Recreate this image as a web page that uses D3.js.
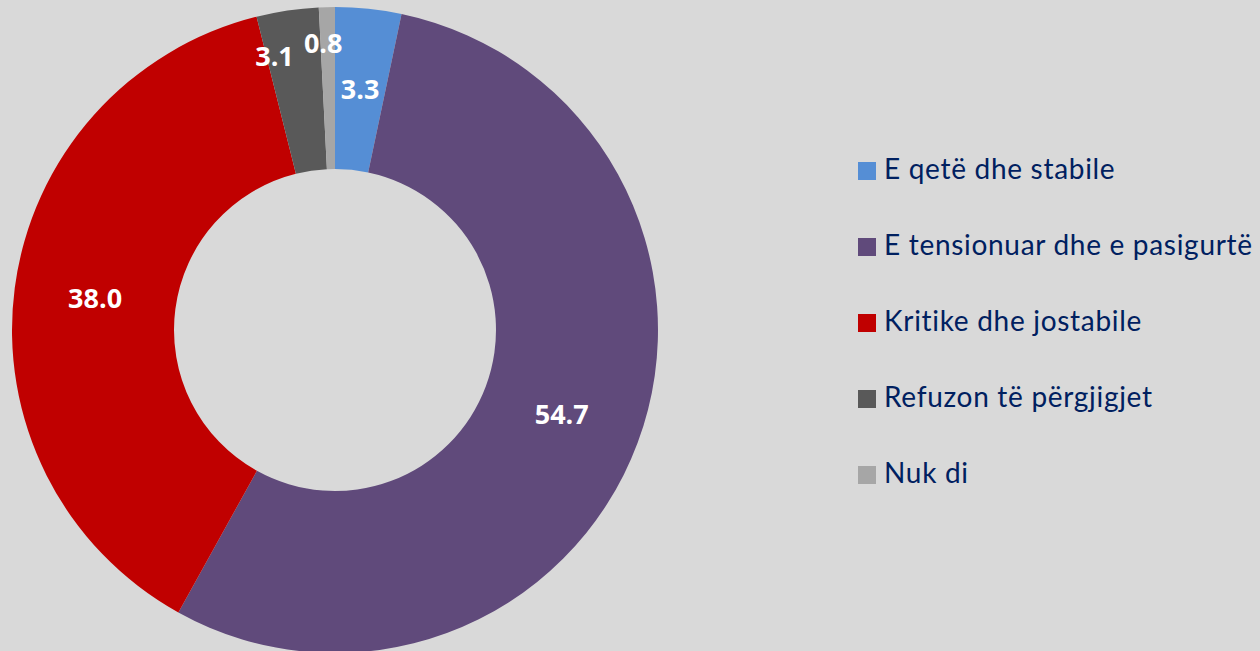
<!DOCTYPE html>
<html>
<head>
<meta charset="utf-8">
<script src="https://cdn.jsdelivr.net/npm/d3@7"></script>
<style>
html,body{margin:0;padding:0;background:#d9d9d9;}
svg{display:block;}
</style>
</head>
<body>
<svg id="chart" width="1260" height="651"></svg>
<script>
const categories = ["E qetë dhe stabile", "E tensionuar dhe e pasigurtë", "Kritike dhe jostabile", "Refuzon të përgjigjet", "Nuk di"];
const values = [3.3, 54.7, 38.0, 3.1, 0.8];
const colors = ["#558ed5", "#604a7b", "#c00000", "#595959", "#a6a6a6"];

const svg = d3.select("#chart");
const cx = 335, cy = 330, rOuter = 323, rInner = 161;

const pie = d3.pie().sort(null).value(d => d)(values);
const arc = d3.arc().innerRadius(rInner).outerRadius(rOuter);
const g = svg.append("g").attr("transform", `translate(${cx},${cy})`);

g.selectAll("path").data(pie).enter().append("path")
  .attr("d", arc)
  .attr("fill", (d, i) => colors[i]);

// label placement: centroid, except small crowded slices nudged outward/left (as in reference)
const labelShift = {3: {angle: -0.07, r: 280}, 4: {angle: -0.016, r: 287}};
g.selectAll("text.lbl").data(pie).enter().append("text")
  .attr("class", "lbl")
  .attr("transform", (d, i) => {
    let p;
    if (labelShift[i]) {
      const a = (d.startAngle + d.endAngle) / 2 + labelShift[i].angle;
      p = [labelShift[i].r * Math.sin(a), -labelShift[i].r * Math.cos(a)];
    } else p = arc.centroid(d);
    return `translate(${p[0]},${p[1]})`;
  })
  .attr("text-anchor", "middle")
  .attr("dy", "0.36em")
  .attr("fill", "#ffffff")
  .attr("font-family", "'Open Sans', Lato, sans-serif")
  .attr("font-weight", "bold")
  .attr("font-size", 27)
  .text(d => d.data.toFixed(1));

// legend
const leg = svg.append("g").attr("transform", "translate(858,162)");
const rows = leg.selectAll("g").data(categories).enter().append("g")
  .attr("transform", (d, i) => `translate(0,${i * 76})`);
rows.append("rect").attr("width", 18).attr("height", 18).attr("fill", (d, i) => colors[i]);
rows.append("text")
  .attr("x", 26).attr("y", 17)
  .attr("fill", "#002060")
  .attr("font-family", "Lato, 'Open Sans', sans-serif")
  .attr("font-size", 28)
  .attr("letter-spacing", 0.7)
  .text(d => d);
</script>
</body>
</html>
